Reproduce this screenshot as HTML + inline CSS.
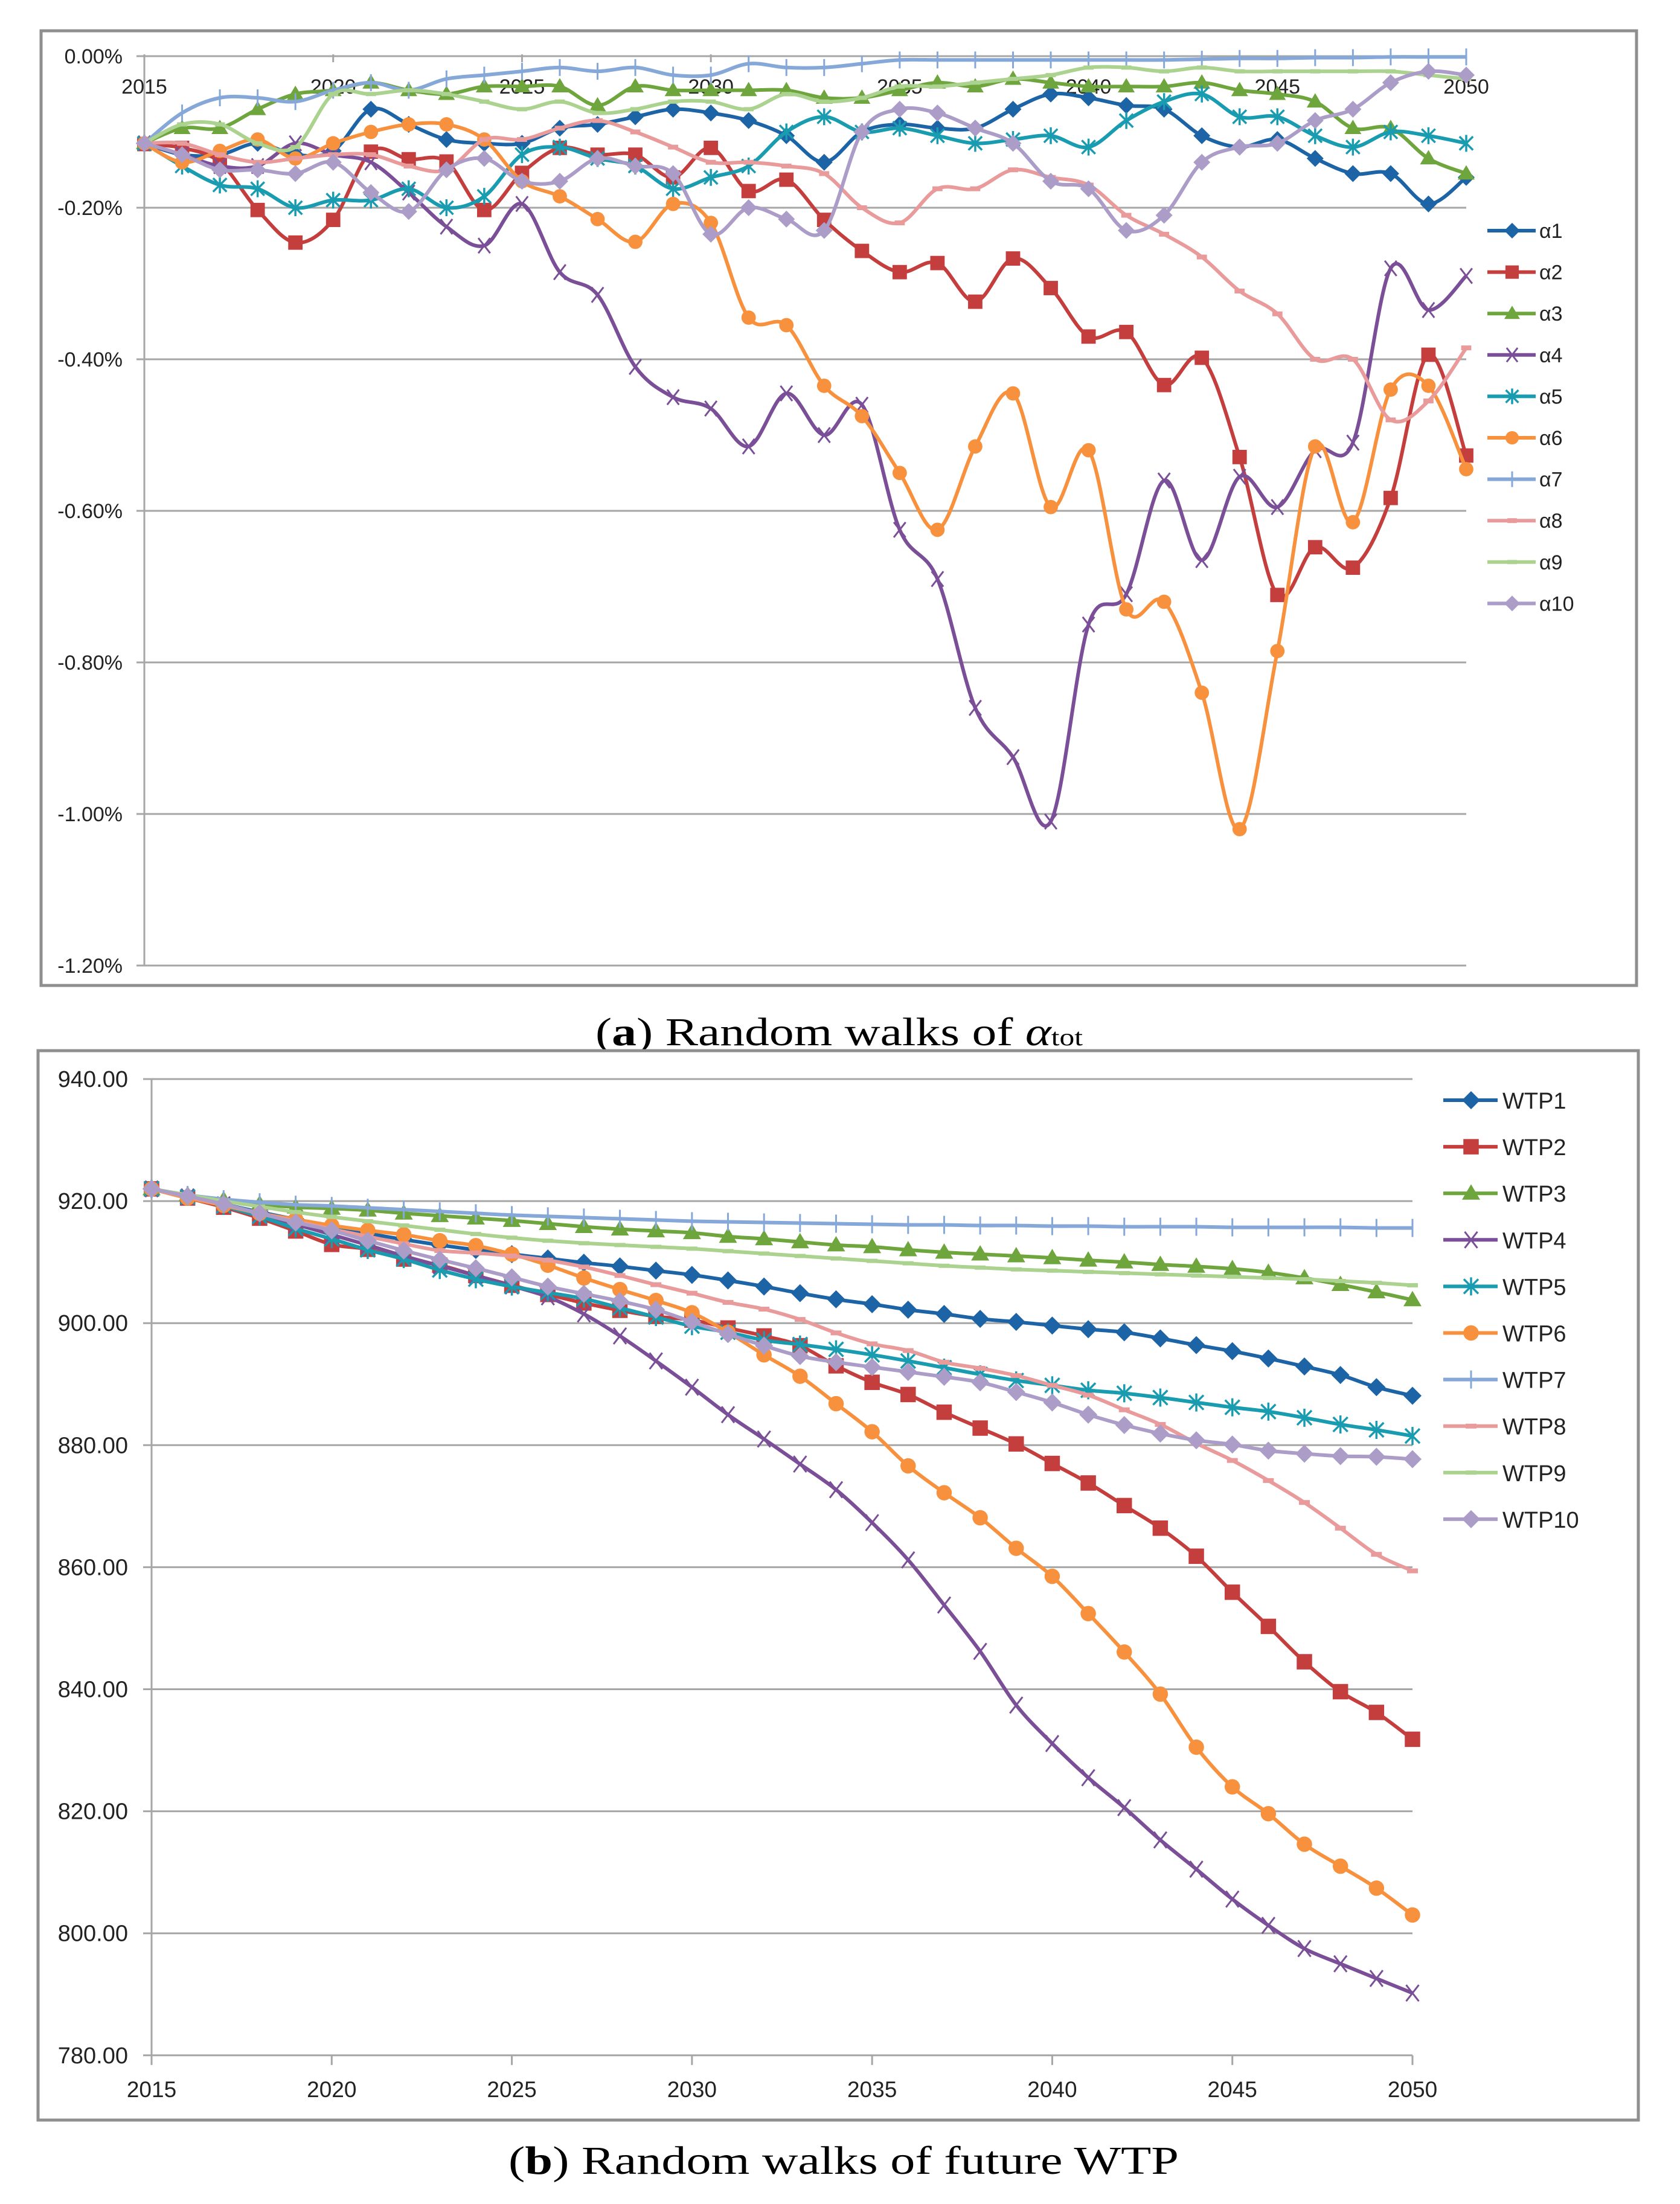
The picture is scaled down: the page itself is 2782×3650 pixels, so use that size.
<!DOCTYPE html>
<html><head><meta charset="utf-8"><style>
html,body{margin:0;padding:0;background:#fff}
svg{display:block}
text{font-family:"Liberation Sans",sans-serif}
</style></head><body>
<svg id="fig" xmlns="http://www.w3.org/2000/svg" width="2782" height="3650" viewBox="0 0 2782 3650">
<rect x="0" y="0" width="2782" height="3650" fill="#fff"/>
<g>
<rect x="68" y="51" width="2642" height="1581" fill="#fff" stroke="#8f8f8f" stroke-width="5"/>
<g id="gA"></g>
</g>
<text x="986" y="1731" style="font-family:'Liberation Serif',serif" font-size="66" textLength="807" lengthAdjust="spacingAndGlyphs" fill="#000">(<tspan font-weight="bold">a</tspan>) Random walks of <tspan font-style="italic">α</tspan><tspan font-size="40">tot</tspan></text>
<g>
<rect x="63" y="1740" width="2650" height="1771" fill="#fff" stroke="#8f8f8f" stroke-width="5"/>
<g id="gB"></g>
</g>
<text x="842" y="3600" style="font-family:'Liberation Serif',serif" font-size="66" textLength="1110" lengthAdjust="spacingAndGlyphs" fill="#000">(<tspan font-weight="bold">b</tspan>) Random walks of future WTP</text>
</svg>
<script>
const years = [];
for (let y = 2015; y <= 2050; y++) years.push(y);
const tickYears = [2015,2020,2025,2030,2035,2040,2045,2050];
const alphaTicks = [0,-0.2,-0.4,-0.6,-0.8,-1.0,-1.2];
const wtpTicks = [940,920,900,880,860,840,820,800,780];
const alphaNames = ["α1","α2","α3","α4","α5","α6","α7","α8","α9","α10"];
const wtpNames = ["WTP1","WTP2","WTP3","WTP4","WTP5","WTP6","WTP7","WTP8","WTP9","WTP10"];

const a1 = [-0.115,-0.13,-0.13,-0.115,-0.13,-0.125,-0.07,-0.09,-0.11,-0.115,-0.115,-0.095,-0.09,-0.08,-0.07,-0.075,-0.085,-0.105,-0.14,-0.10,-0.09,-0.095,-0.095,-0.07,-0.05,-0.055,-0.065,-0.07,-0.105,-0.12,-0.11,-0.135,-0.155,-0.155,-0.195,-0.16];
const a2 = [-0.116,-0.121,-0.14,-0.203,-0.246,-0.216,-0.126,-0.136,-0.139,-0.203,-0.154,-0.121,-0.13,-0.13,-0.16,-0.121,-0.178,-0.163,-0.216,-0.257,-0.285,-0.273,-0.324,-0.267,-0.306,-0.37,-0.364,-0.434,-0.398,-0.529,-0.711,-0.648,-0.675,-0.583,-0.394,-0.527];
const a3 = [-0.115,-0.095,-0.095,-0.07,-0.05,-0.045,-0.035,-0.045,-0.05,-0.04,-0.04,-0.04,-0.065,-0.04,-0.045,-0.045,-0.045,-0.045,-0.055,-0.055,-0.045,-0.035,-0.04,-0.03,-0.035,-0.04,-0.04,-0.04,-0.035,-0.045,-0.05,-0.06,-0.095,-0.095,-0.135,-0.155];
const a4 = [-0.115,-0.13,-0.145,-0.145,-0.115,-0.13,-0.14,-0.18,-0.225,-0.25,-0.195,-0.285,-0.315,-0.41,-0.45,-0.465,-0.515,-0.445,-0.50,-0.46,-0.625,-0.69,-0.86,-0.925,-1.01,-0.75,-0.71,-0.56,-0.665,-0.555,-0.595,-0.52,-0.51,-0.28,-0.335,-0.29];
const a5 = [-0.115,-0.145,-0.17,-0.175,-0.2,-0.19,-0.19,-0.175,-0.2,-0.185,-0.13,-0.12,-0.135,-0.145,-0.175,-0.16,-0.145,-0.10,-0.08,-0.10,-0.095,-0.105,-0.115,-0.11,-0.105,-0.12,-0.085,-0.06,-0.05,-0.08,-0.08,-0.105,-0.12,-0.10,-0.105,-0.115];
const a6 = [-0.115,-0.14,-0.125,-0.11,-0.135,-0.115,-0.10,-0.09,-0.09,-0.11,-0.165,-0.185,-0.215,-0.245,-0.195,-0.22,-0.345,-0.355,-0.435,-0.475,-0.55,-0.625,-0.515,-0.445,-0.595,-0.52,-0.73,-0.72,-0.84,-1.02,-0.785,-0.515,-0.615,-0.44,-0.435,-0.545];
const a7 = [-0.115,-0.075,-0.055,-0.055,-0.06,-0.045,-0.035,-0.045,-0.03,-0.025,-0.02,-0.015,-0.02,-0.015,-0.025,-0.025,-0.01,-0.015,-0.015,-0.01,-0.005,-0.005,-0.005,-0.005,-0.005,-0.005,-0.005,-0.005,-0.004,-0.003,-0.003,-0.002,-0.002,-0.001,-0.001,-0.001];
const a8 = [-0.115,-0.115,-0.13,-0.14,-0.135,-0.13,-0.13,-0.145,-0.15,-0.11,-0.11,-0.095,-0.085,-0.10,-0.12,-0.14,-0.14,-0.145,-0.155,-0.20,-0.22,-0.175,-0.175,-0.15,-0.16,-0.17,-0.21,-0.235,-0.265,-0.31,-0.34,-0.40,-0.40,-0.48,-0.455,-0.385];
const a9 = [-0.115,-0.09,-0.09,-0.115,-0.12,-0.05,-0.05,-0.045,-0.05,-0.06,-0.07,-0.06,-0.075,-0.07,-0.06,-0.06,-0.07,-0.05,-0.06,-0.055,-0.04,-0.04,-0.035,-0.03,-0.025,-0.015,-0.015,-0.02,-0.015,-0.02,-0.02,-0.02,-0.02,-0.02,-0.025,-0.03];
const a10 = [-0.115,-0.13,-0.15,-0.15,-0.155,-0.14,-0.18,-0.205,-0.15,-0.135,-0.165,-0.165,-0.135,-0.145,-0.155,-0.235,-0.20,-0.215,-0.23,-0.10,-0.07,-0.075,-0.095,-0.115,-0.165,-0.175,-0.23,-0.21,-0.14,-0.12,-0.115,-0.085,-0.07,-0.035,-0.02,-0.025];

const w1 = [922,920.8,919.5,918.2,917,915.8,914.7,913.7,912.8,912,911.3,910.6,909.9,909.3,908.6,907.9,907,906,904.9,903.9,903.1,902.2,901.5,900.7,900.2,899.6,899,898.5,897.5,896.4,895.4,894.2,892.9,891.5,889.5,888.1];
const w2 = [922,920.5,919,917.2,915.1,912.9,912.1,910.5,909.5,907.8,906.2,904.7,903.3,902.1,901.1,900.5,899.2,897.9,896.3,893,890.3,888.3,885.4,882.8,880.2,877,873.8,870.1,866.4,861.8,855.9,850.3,844.5,839.6,836.2,831.8];
const w3 = [922,921,920.2,919.5,919,918.8,918.5,918,917.6,917.2,916.8,916.3,915.8,915.4,915.1,914.8,914.2,913.8,913.3,912.8,912.5,912,911.6,911.3,911,910.7,910.3,910,909.6,909.3,908.9,908.3,907.4,906.3,905.1,903.8];
const w4 = [922,920.7,919.4,917.8,916.2,914.5,912.8,911,909.4,907.8,906.1,904.3,901.5,897.9,893.8,889.5,885,881,876.9,872.7,867.3,861.2,853.8,846.2,837.4,831.1,825.5,820.6,815.3,810.5,805.6,801.3,797.5,795,792.6,790.2];
const w5 = [922,920.7,919.2,917.5,915.5,913.8,912,910.5,908.7,907.2,906,905,904,902.5,901,899.5,898.5,897.2,896.5,895.7,894.8,893.8,892.7,891.6,890.6,889.8,889,888.5,887.8,887,886.2,885.5,884.5,883.4,882.5,881.5];
const w6 = [922,920.5,919.3,918,917,916,915.2,914.5,913.5,912.7,911.3,909.5,907.4,905.5,903.7,901.7,898.5,894.8,891.3,886.8,882.2,876.6,872.2,868.1,863.1,858.5,852.4,846.1,839.2,830.5,824,819.6,814.6,811,807.4,803];
const w7 = [922,921,920.3,919.8,919.4,919.2,918.9,918.6,918.3,918,917.7,917.5,917.3,917.1,916.9,916.7,916.6,916.5,916.4,916.3,916.2,916.1,916.1,916,916,915.9,915.9,915.8,915.8,915.8,915.7,915.7,915.7,915.7,915.6,915.6];
const w8 = [922,920.7,919.4,918,916.7,915.4,914.2,913,911.9,911.5,911,910.3,909.2,907.8,906.3,904.9,903.4,902.3,900.6,898.4,896.6,895.5,893.6,892.6,891.4,889.8,888.2,885.8,883.4,880.3,877.5,874.2,870.6,866.4,862.1,859.4];
const w9 = [922,921,920,919.1,918.2,917.4,916.7,916,915.3,914.6,914,913.5,913.1,912.8,912.5,912.2,911.8,911.4,911,910.6,910.2,909.8,909.4,909.1,908.8,908.6,908.4,908.2,908,907.8,907.6,907.4,907.2,906.9,906.6,906.2];
const w10 = [922,920.8,919.5,918,916.5,915.2,913.5,911.9,910.4,909,907.5,906,904.8,903.6,902.2,900.2,898.2,896.3,894.6,893.6,892.8,892,891.2,890.3,888.7,887,885,883.3,881.9,880.8,880.1,879.1,878.6,878.2,878.1,877.7];

const colors = ["#1c64a6","#c43e3e","#6ea53d","#7a4f98","#199bb0","#f8913d","#86a8d8","#e99a9a","#abd28f","#ab9cc8"];
const markers = ["diamond","square","triangle","x","star","circle","plus","dash","dash2","diamond"];
const alphaSeries = [a1,a2,a3,a4,a5,a6,a7,a8,a9,a10];
const wtpSeries = [w1,w2,w3,w4,w5,w6,w7,w8,w9,w10];

const NS = "http://www.w3.org/2000/svg";
function mk(tag, attrs, parent){const e=document.createElementNS(NS,tag);for(const k in attrs)e.setAttribute(k,attrs[k]);parent.appendChild(e);return e;}

function xA(i){return 239 + i*(2428-239)/35;}
function yA(v){return 93 + (-v)/0.2*251;}
function xB(i){return 251 + i*(2339-251)/35;}
function yB(v){return 1787 + (940-v)/20*202.1;}

function smooth(pts){
  let d="M"+pts[0][0].toFixed(1)+","+pts[0][1].toFixed(1);
  for(let i=0;i<pts.length-1;i++){
    const p0=pts[Math.max(0,i-1)],p1=pts[i],p2=pts[i+1],p3=pts[Math.min(pts.length-1,i+2)];
    const t=1/6;
    const c1=[p1[0]+(p2[0]-p0[0])*t,p1[1]+(p2[1]-p0[1])*t];
    const c2=[p2[0]-(p3[0]-p1[0])*t,p2[1]-(p3[1]-p1[1])*t];
    d+="C"+c1[0].toFixed(1)+","+c1[1].toFixed(1)+" "+c2[0].toFixed(1)+","+c2[1].toFixed(1)+" "+p2[0].toFixed(1)+","+p2[1].toFixed(1);
  }
  return d;
}

function marker(g,type,x,y,c,s){
  let e;
  if(type==="diamond"){e=mk("polygon",{points:`${x},${y-s} ${x+s},${y} ${x},${y+s} ${x-s},${y}`,fill:c},g);}
  else if(type==="square"){e=mk("rect",{x:x-s*0.85,y:y-s*0.85,width:s*1.7,height:s*1.7,fill:c},g);}
  else if(type==="triangle"){e=mk("polygon",{points:`${x},${y-s} ${x+s},${y+s*0.7} ${x-s},${y+s*0.7}`,fill:c},g);}
  else if(type==="circle"){e=mk("circle",{cx:x,cy:y,r:s*0.85,fill:c},g);}
  else if(type==="x"){e=mk("path",{d:`M${x-s*0.7},${y-s*0.9}L${x+s*0.7},${y+s*0.9}M${x+s*0.7},${y-s*0.9}L${x-s*0.7},${y+s*0.9}`,stroke:c,"stroke-width":3,fill:"none"},g);}
  else if(type==="star"){e=mk("path",{d:`M${x-s*0.8},${y-s*0.8}L${x+s*0.8},${y+s*0.8}M${x+s*0.8},${y-s*0.8}L${x-s*0.8},${y+s*0.8}M${x},${y-s}L${x},${y+s}`,stroke:c,"stroke-width":3.5,fill:"none"},g);}
  else if(type==="plus"){e=mk("path",{d:`M${x},${y-s}L${x},${y+s}`,stroke:c,"stroke-width":3,fill:"none"},g);}
  else if(type==="dash"){e=mk("path",{d:`M${x-s*0.6},${y}L${x+s*0.6},${y}`,stroke:c,"stroke-width":8,fill:"none"},g);}
  else {e=mk("path",{d:`M${x-s*0.6},${y}L${x+s*0.6},${y}`,stroke:c,"stroke-width":7,fill:"none"},g);}
  return e;
}

const gA=document.getElementById("gA");
alphaTicks.forEach(v=>{
  const l=mk("line",{x1:226,x2:2428,y1:yA(v),y2:yA(v),stroke:"#a6a6a6","stroke-width":3},gA);
  
  
  const t=mk("text",{x:203,y:yA(v)+12,"text-anchor":"end","font-size":34,fill:"#222"},gA);
  t.textContent=(v===0?"0.00":v.toFixed(2))+"%";
  
  
});
{const l=mk("line",{x1:239,x2:239,y1:yA(0),y2:yA(-1.2),stroke:"#a6a6a6","stroke-width":3},gA);

}
tickYears.forEach(yr=>{
  const i=years.indexOf(yr);
  const tk=mk("line",{x1:xA(i),x2:xA(i),y1:yA(0)-3,y2:yA(0)+10,stroke:"#a6a6a6","stroke-width":3},gA);
  
  
  const t=mk("text",{x:xA(i),y:155,"text-anchor":"middle","font-size":34,fill:"#222"},gA);
  t.textContent=String(yr);
  
  
});
alphaSeries.forEach((s,k)=>{
  const g=mk("g",{},gA);
  
  
  const pts=s.map((v,i)=>[xA(i),yA(v)]);
  mk("path",{d:smooth(pts),fill:"none",stroke:colors[k],"stroke-width":6,"stroke-linejoin":"round"},g);
  pts.forEach(p=>marker(g,markers[k],p[0],p[1],colors[k],14));
  const ly=382+k*68.6;
  const lg=mk("g",{},gA);
  
  
  mk("line",{x1:2463,x2:2543,y1:ly,y2:ly,stroke:colors[k],"stroke-width":6},lg);
  marker(lg,markers[k],2504,ly,colors[k],13);
  const t=mk("text",{x:2549,y:ly+12,"font-size":34,fill:"#222"},lg);
  t.textContent=alphaNames[k];
});

const gB=document.getElementById("gB");
wtpTicks.forEach(v=>{
  const l=mk("line",{x1:237,x2:2339,y1:yB(v),y2:yB(v),stroke:"#a6a6a6","stroke-width":3},gB);
  
  
  const t=mk("text",{x:212,y:yB(v)+13,"text-anchor":"end","font-size":38,fill:"#222"},gB);
  t.textContent=v.toFixed(2);
  
  
});
{const l=mk("line",{x1:251,x2:251,y1:yB(940),y2:yB(780),stroke:"#a6a6a6","stroke-width":3},gB);

}
tickYears.forEach(yr=>{
  const i=years.indexOf(yr);
  const tk=mk("line",{x1:xB(i),x2:xB(i),y1:yB(780),y2:yB(780)+16,stroke:"#a6a6a6","stroke-width":3},gB);
  
  
  const t=mk("text",{x:xB(i),y:3473,"text-anchor":"middle","font-size":37,fill:"#222"},gB);
  t.textContent=String(yr);
  
  
});
wtpSeries.forEach((s,k)=>{
  const g=mk("g",{},gB);
  
  
  const pts=s.map((v,i)=>[xB(i),yB(v)]);
  mk("path",{d:smooth(pts),fill:"none",stroke:colors[k],"stroke-width":6,"stroke-linejoin":"round"},g);
  pts.forEach(p=>marker(g,markers[k],p[0],p[1],colors[k],15));
  const ly=1822+k*77.1;
  const lg=mk("g",{},gB);
  
  
  mk("line",{x1:2390,x2:2480,y1:ly,y2:ly,stroke:colors[k],"stroke-width":6},lg);
  marker(lg,markers[k],2436,ly,colors[k],15);
  const t=mk("text",{x:2488,y:ly+14,"font-size":38,fill:"#222"},lg);
  t.textContent=wtpNames[k];
});
</script>
</body></html>
